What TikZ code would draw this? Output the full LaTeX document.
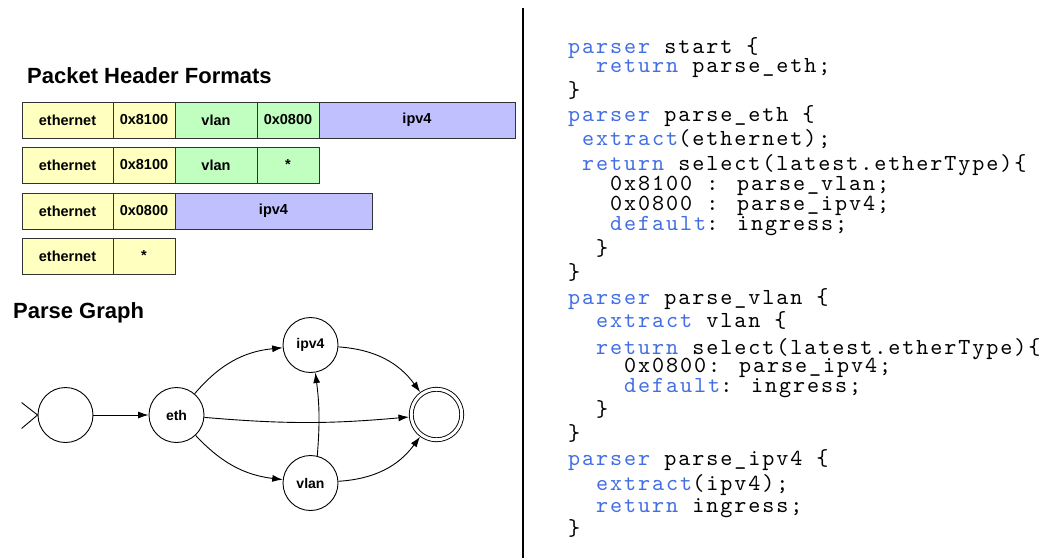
\documentclass[tikz,border=0pt]{standalone}
\usepackage{fontspec}
\setmainfont{Liberation Sans}
\newfontfamily\codefont{lmmono10-regular.otf}[LetterSpace=8.4]
\usetikzlibrary{arrows.meta,positioning}

\definecolor{ethfill}{RGB}{255,255,192}
\definecolor{vlanfill}{RGB}{192,255,192}
\definecolor{ipfill}{RGB}{192,192,255}
\definecolor{kwblue}{RGB}{66,110,228}
\newcommand{\kw}[1]{\textcolor{kwblue}{#1}}

\tikzset{
  hdr/.style={draw=black!80, line width=0.9pt, minimum height=36pt, inner sep=0pt, outer sep=0pt,
    anchor=north west, font=\bfseries\fontsize{14.5}{16}\selectfont},
  state/.style={draw, circle, minimum size=55pt, inner sep=0pt, line width=0.9pt,
    font=\bfseries\fontsize{14}{16}\selectfont},
  edge/.style={-{Latex[length=10.5pt,width=7pt]}, line width=0.9pt},
  code/.style={anchor=mid west, inner sep=0pt, font=\codefont\fontsize{23}{20}\selectfont},
  title/.style={anchor=base west, inner sep=0pt, font=\bfseries\fontsize{22}{24}\selectfont}
}

\begin{document}
\begin{tikzpicture}[x=1pt,y=-1pt]
\useasboundingbox (0,0) rectangle (1052,558);

\node[title] (hdrtitle) at (27,83) {Packet Header Formats};
\node[title] (graphtitle) at (13,318) {Parse Graph};

% header formats
\node[hdr, fill=ethfill, minimum width=91pt] (eth1) at (22,102) {ethernet};
\node[hdr, fill=ethfill, minimum width=62pt, right=0pt of eth1] (type1) {0x8100};
\node[hdr, fill=vlanfill, minimum width=82pt, right=0pt of type1] (vlan1) {vlan};
\node[hdr, fill=vlanfill, minimum width=62pt, right=0pt of vlan1] (vtype1) {0x0800};
\node[hdr, fill=ipfill, minimum width=196pt, right=0pt of vtype1] (ip1) {ipv4};

\node[hdr, fill=ethfill, minimum width=91pt] (eth2) at (22,147) {ethernet};
\node[hdr, fill=ethfill, minimum width=62pt, right=0pt of eth2] (type2) {0x8100};
\node[hdr, fill=vlanfill, minimum width=82pt, right=0pt of type2] (vlan2) {vlan};
\node[hdr, fill=vlanfill, minimum width=62pt, right=0pt of vlan2] (vtype2) {*};

\node[hdr, fill=ethfill, minimum width=91pt] (eth3) at (22,193) {ethernet};
\node[hdr, fill=ethfill, minimum width=62pt, right=0pt of eth3] (type3) {0x0800};
\node[hdr, fill=ipfill, minimum width=197pt, right=0pt of type3] (ip3) {ipv4};

\node[hdr, fill=ethfill, minimum width=91pt] (eth4) at (22,238) {ethernet};
\node[hdr, fill=ethfill, minimum width=62pt, right=0pt of eth4] (type4) {*};

% parse graph
\node[state] (start) at (65.5,415) {};
\node[state] (eth) at (176.5,415) {eth};
\node[state] (ipv4) at (310.5,345) {ipv4};
\node[state] (vlan) at (310.5,483) {vlan};
\node[state, double, double distance=3pt, minimum size=50.5pt, outer sep=2.4pt] (accept) at (436.5,414.5) {};

\draw[line width=0.9pt] (start.west) -- ++(-16,-12.5);
\draw[line width=0.9pt] (start.west) -- ++(-16,13.5);

\draw[edge] (start) -- (eth);
\draw[edge] (eth) to[bend left=22] (ipv4);
\draw[edge] (eth) to[bend right=5] (accept);
\draw[edge] (eth) to[bend right=20] (vlan);
\draw[edge] (vlan.76) to[bend right=6] (ipv4.280);
\draw[edge] (ipv4) to[bend left=25] (accept);
\draw[edge] (vlan) to[bend right=25] (accept);

% divider
\draw[line width=1.2pt] (523,8) -- (523,558);

% parser code
\node[code] (l1) at (568,51) {\kw{parser} start \{};
\node[code] (l2) at (596,70) {\kw{return} parse\_eth;};
\node[code] (l3) at (568,94.5) {\}};
\node[code] (l4) at (568,119) {\kw{parser} parse\_eth \{};
\node[code] (l5) at (582,143) {\kw{extract}(ethernet);};
\node[code] (l6) at (582,168) {\kw{return} select(latest.etherType)\{};
\node[code] (l7) at (610,188) {0x8100 : parse\_vlan;};
\node[code] (l8) at (610,208) {0x0800 : parse\_ipv4;};
\node[code] (l9) at (610,228) {\kw{default}: ingress;};
\node[code] (l10) at (596,252.5) {\}};
\node[code] (l11) at (568,277) {\}};
\node[code] (l12) at (568,302) {\kw{parser} parse\_vlan \{};
\node[code] (l13) at (596,325) {\kw{extract} vlan \{};
\node[code] (l14) at (596,352) {\kw{return} select(latest.etherType)\{};
\node[code] (l15) at (624,370) {0x0800: parse\_ipv4;};
\node[code] (l16) at (624,390) {\kw{default}: ingress;};
\node[code] (l17) at (596,414) {\}};
\node[code] (l18) at (568,438) {\}};
\node[code] (l19) at (568,463) {\kw{parser} parse\_ipv4 \{};
\node[code] (l20) at (596,488) {\kw{extract}(ipv4);};
\node[code] (l21) at (596,510) {\kw{return} ingress;};
\node[code] (l22) at (568,533) {\}};
\end{tikzpicture}
\end{document}
